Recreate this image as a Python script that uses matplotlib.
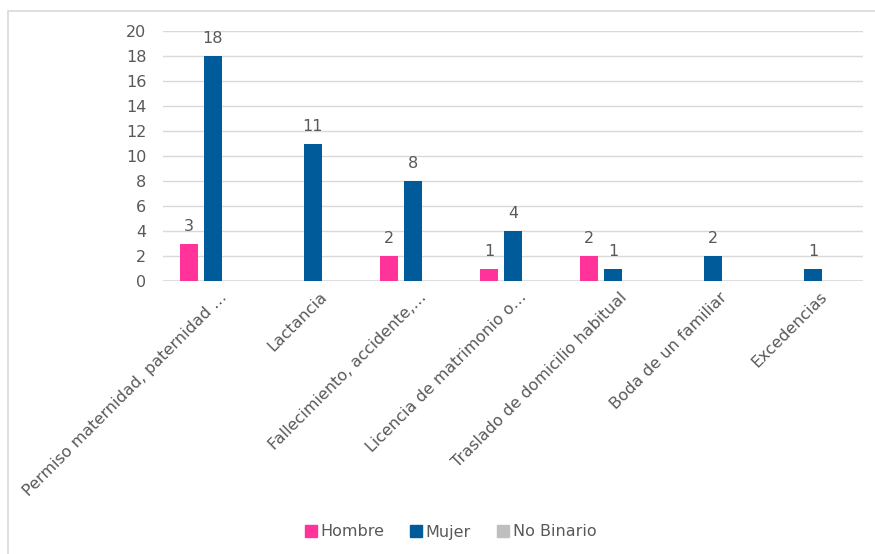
import numpy as np
import matplotlib
matplotlib.use("Agg")
import matplotlib.pyplot as plt
from matplotlib.lines import Line2D

# data
categorias = ["Permiso maternidad, paternidad …", "Lactancia", "Fallecimiento, accidente,…",
              "Licencia de matrimonio o…", "Traslado de domicilio habitual",
              "Boda de un familiar", "Excedencias"]
hombre = [3, 0, 2, 1, 2, 0, 0]
mujer = [18, 11, 8, 4, 1, 2, 1]
no_binario = [0, 0, 0, 0, 0, 0, 0]

series = ["Hombre", "Mujer", "No Binario"]
colores = ["#ff3399", "#005b9a", "#bfbfbf"]
gris = "#595959"

plt.rcParams['font.family'] = ['DejaVu Sans']

fig = plt.figure(figsize=(8.75, 5.54), dpi=100)
W, H = 875, 554
ax = fig.add_axes([163 / W, 1 - 281 / H, 700 / W, 250 / H])

x = np.arange(len(categorias))
ancho = 0.18
paso = 0.24
for i, (vals, col) in enumerate(zip([hombre, mujer, no_binario], colores)):
    pos = x + (i - 1) * paso
    ax.bar(pos, vals, width=ancho, color=col, zorder=3)
    if i < 2:
        for p, v in zip(pos, vals):
            if v > 0:
                ax.annotate(str(v), (p, v), xytext=(0, 7), textcoords="offset points",
                            ha="center", va="bottom", fontsize=11.5, color=gris)

ax.set_xlim(-0.5, len(categorias) - 0.5)
ax.set_ylim(0, 20)
ax.set_yticks(range(0, 21, 2))
ax.yaxis.grid(True, color="#d9d9d9", linewidth=1, zorder=0)
for s in ax.spines.values():
    s.set_visible(False)
ax.axhline(0, color="#d9d9d9", linewidth=1.2, zorder=2)
ax.tick_params(axis="both", length=0, labelsize=11.5, colors=gris)
ax.tick_params(axis="y", pad=12)

ax.set_xticks(x + 0.06)
ax.set_xticklabels(categorias, rotation=45, ha="right", rotation_mode="anchor",
                   fontsize=11.5, color=gris)
ax.tick_params(axis="x", pad=6)

# legend
handles = [Line2D([0], [0], marker="s", linestyle="", markersize=8,
                  markerfacecolor=c, markeredgecolor=c) for c in colores]
fig.legend(handles, series, loc="center", bbox_to_anchor=(447 / W, 1 - 532 / H),
           ncol=3, frameon=False, fontsize=11.5, labelcolor=gris,
           handletextpad=-0.2, handlelength=1.6, columnspacing=1.2)

# chart area border
fig.add_artist(plt.Rectangle((7.5 / W, -0.01), 1.0, 1 - 10.5 / H + 0.01,
                             transform=fig.transFigure, fill=False,
                             edgecolor="#d9d9d9", linewidth=1.2))

fig.savefig("out.png", dpi=100, facecolor="white")
